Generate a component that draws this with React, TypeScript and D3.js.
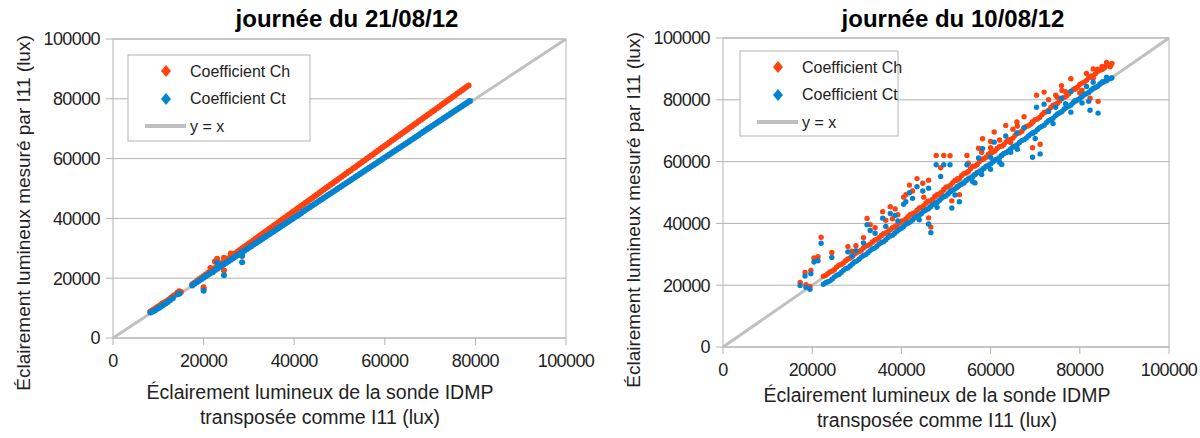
import React from 'react';
import * as d3 from 'd3';

type Pt = [number, number];

const W = 1200;
const H = 438;

const axisTicks = [0, 20000, 40000, 60000, 80000, 100000];
const seriesNames = ['Coefficient Ch', 'Coefficient Ct', 'y = x'];
const panelTitles = ['journée du 21/08/12', 'journée du 10/08/12'];
const yTitle = 'Éclairement lumineux mesuré par I11 (lux)';
const xTitleLines = ['Éclairement lumineux de la sonde IDMP', 'transposée comme I11 (lux)'];

// 21/08/12 - coefficient Ch (dense band read every 500 lux + low cluster + outliers)
const leftCh: Pt[] = [
  [8200, 8800], [8600, 9100], [9000, 9500], [9400, 9900], [9700, 10300], [10100, 10600],
  [10500, 11000], [10900, 11500], [11300, 11800], [11700, 12200], [12200, 12700], [12700, 13300],
  [13100, 13800], [13500, 14300], [14200, 15100], [14600, 15600], [15000, 15400],
  [17500, 18000], [18000, 18520], [18500, 19070], [19000, 19610], [19500, 20150], [20000, 20700],
  [20500, 21250], [21000, 21790], [21500, 22340], [22000, 22880], [22500, 23420], [23000, 23970],
  [23500, 24520], [24000, 25060], [24500, 25610], [25000, 26150], [25500, 26700], [26000, 27240],
  [26500, 27780], [27000, 28330], [27500, 28870], [28000, 29420], [28500, 29960], [29000, 30510],
  [29500, 31050], [30000, 31600], [30500, 32140], [31000, 32690], [31500, 33240], [32000, 33780],
  [32500, 34330], [33000, 34870], [33500, 35410], [34000, 35960], [34500, 36500], [35000, 37050],
  [35500, 37600], [36000, 38140], [36500, 38690], [37000, 39230], [37500, 39780], [38000, 40320],
  [38500, 40860], [39000, 41410], [39500, 41960], [40000, 42500], [40500, 43040], [41000, 43590],
  [41500, 44130], [42000, 44680], [42500, 45220], [43000, 45770], [43500, 46310], [44000, 46860],
  [44500, 47400], [45000, 47950], [45500, 48500], [46000, 49040], [46500, 49580], [47000, 50130],
  [47500, 50680], [48000, 51220], [48500, 51760], [49000, 52310], [49500, 52860], [50000, 53400],
  [50500, 53940], [51000, 54490], [51500, 55040], [52000, 55580], [52500, 56120], [53000, 56670],
  [53500, 57210], [54000, 57760], [54500, 58300], [55000, 58850], [55500, 59400], [56000, 59940],
  [56500, 60480], [57000, 61030], [57500, 61580], [58000, 62120], [58500, 62660], [59000, 63210],
  [59500, 63760], [60000, 64300], [60500, 64840], [61000, 65390], [61500, 65940], [62000, 66480],
  [62500, 67020], [63000, 67570], [63500, 68120], [64000, 68660], [64500, 69200], [65000, 69750],
  [65500, 70300], [66000, 70840], [66500, 71380], [67000, 71930], [67500, 72480], [68000, 73020],
  [68500, 73560], [69000, 74110], [69500, 74660], [70000, 75200], [70500, 75740], [71000, 76290],
  [71500, 76840], [72000, 77380], [72500, 77920], [73000, 78470], [73500, 79020], [74000, 79560],
  [74500, 80100], [75000, 80650], [75500, 81200], [76000, 81740], [76500, 82280], [77000, 82830],
  [77500, 83380], [78000, 83920], [78500, 84460],
  [20000, 17000], [20000, 16400], [23000, 26500], [22500, 25600], [24500, 22600], [24500, 26800],
  [28500, 27400], [26000, 28300], [21500, 23400],
];

// 21/08/12 - coefficient Ct
const leftCt: Pt[] = [
  [8300, 8500], [8800, 8900], [9300, 9300], [9800, 9800], [10200, 10100], [10600, 10500],
  [11100, 11000], [11600, 11500], [12100, 12000], [12600, 12600], [13200, 13300], [14300, 14600],
  [14700, 14900],
  [17500, 17600], [18000, 18110], [18500, 18610], [19000, 19110], [19500, 19620], [20000, 20120],
  [20500, 20620], [21000, 21130], [21500, 21630], [22000, 22130], [22500, 22640], [23000, 23140],
  [23500, 23640], [24000, 24150], [24500, 24650], [25000, 25150], [25500, 25660], [26000, 26160],
  [26500, 26660], [27000, 27170], [27500, 27670], [28000, 28170], [28500, 28680], [29000, 29180],
  [29500, 29680], [30000, 30190], [30500, 30690], [31000, 31190], [31500, 31700], [32000, 32200],
  [32500, 32700], [33000, 33210], [33500, 33710], [34000, 34210], [34500, 34720], [35000, 35220],
  [35500, 35720], [36000, 36230], [36500, 36730], [37000, 37230], [37500, 37740], [38000, 38240],
  [38500, 38740], [39000, 39250], [39500, 39750], [40000, 40250], [40500, 40760], [41000, 41260],
  [41500, 41760], [42000, 42270], [42500, 42770], [43000, 43270], [43500, 43780], [44000, 44280],
  [44500, 44780], [45000, 45290], [45500, 45790], [46000, 46290], [46500, 46800], [47000, 47300],
  [47500, 47800], [48000, 48310], [48500, 48810], [49000, 49310], [49500, 49820], [50000, 50320],
  [50500, 50820], [51000, 51320], [51500, 51830], [52000, 52330], [52500, 52830], [53000, 53340],
  [53500, 53840], [54000, 54340], [54500, 54850], [55000, 55350], [55500, 55850], [56000, 56360],
  [56500, 56860], [57000, 57360], [57500, 57870], [58000, 58370], [58500, 58870], [59000, 59380],
  [59500, 59880], [60000, 60380], [60500, 60890], [61000, 61390], [61500, 61890], [62000, 62400],
  [62500, 62900], [63000, 63400], [63500, 63910], [64000, 64410], [64500, 64910], [65000, 65420],
  [65500, 65920], [66000, 66420], [66500, 66930], [67000, 67430], [67500, 67930], [68000, 68440],
  [68500, 68940], [69000, 69440], [69500, 69950], [70000, 70450], [70500, 70950], [71000, 71450],
  [71500, 71960], [72000, 72460], [72500, 72960], [73000, 73470], [73500, 73970], [74000, 74470],
  [74500, 74980], [75000, 75480], [75500, 75980], [76000, 76490], [76500, 76990], [77000, 77490],
  [77500, 78000], [78000, 78500], [78500, 79000], [78800, 79300],
  [20000, 15800], [24500, 21000], [28500, 25300], [23000, 25200], [28500, 27600], [22000, 22000],
];

// 10/08/12 - coefficient Ch
const rightCh: Pt[] = [
  [22500, 22900], [23000, 23100], [23500, 23700], [24000, 24300], [24500, 24600], [25000, 25100],
  [25500, 25900], [26000, 26500], [26500, 26700], [27000, 27200], [27500, 27900], [28000, 28500],
  [28500, 28800], [29000, 29300], [29500, 30100], [30000, 30700], [30500, 30900], [31000, 31300],
  [31500, 32100], [32000, 32700], [32500, 32900], [33000, 33300], [33500, 34000], [34000, 34600],
  [34500, 34900], [35000, 35400], [35500, 36100], [36000, 36700], [36500, 36900], [37000, 37300],
  [37500, 38000], [38000, 38600], [38500, 38900], [39000, 39400], [39500, 40100], [40000, 40700],
  [40500, 40900], [41000, 41400], [41500, 42200], [42000, 42900], [42500, 43100], [43000, 43500],
  [43500, 44300], [44000, 45000], [44500, 45200], [45000, 45700], [45500, 46600], [46000, 47200],
  [46500, 47300], [47000, 47800], [47500, 48700], [48000, 49300], [48500, 49500], [49000, 50100],
  [49500, 51000], [50000, 51700], [50500, 51900], [51000, 52400], [51500, 53200], [52000, 53900],
  [52500, 54000], [53000, 54500], [53500, 55400], [54000, 56100], [54500, 56300], [55000, 56800],
  [55500, 57700], [56000, 58400], [56500, 58600], [57000, 59100], [57500, 60000], [58000, 60700],
  [58500, 60900], [59000, 61400], [59500, 62300], [60000, 62900], [60500, 63000], [61000, 63500],
  [61500, 64300], [62000, 64900], [62500, 65000], [63000, 65500], [63500, 66400], [64000, 67000],
  [64500, 67200], [65000, 67600], [65500, 68500], [66000, 69100], [66500, 69300], [67000, 69800],
  [67500, 70800], [68000, 71400], [68500, 71600], [69000, 72100], [69500, 72900], [70000, 73600],
  [70500, 73800], [71000, 74300], [71500, 75200], [72000, 75900], [72500, 76100], [73000, 76600],
  [73500, 77500], [74000, 78200], [74500, 78500], [75000, 78900], [75500, 79600], [76000, 80400],
  [76500, 80800], [77000, 81200], [77500, 81900], [78000, 82700], [78500, 83300], [79000, 83500],
  [79500, 84100], [80000, 85000], [80500, 85400], [81000, 85700], [81500, 86300], [82000, 87100],
  [82500, 87600], [83000, 87800], [83500, 88400], [84000, 89200], [84500, 89600], [85000, 89800],
  [85500, 90300], [86000, 91000], [86500, 91300], [87000, 91400], [87200, 91800],
  [86000, 92100], [85000, 90800], [84000, 89900], [86800, 90700],
  [38000, 41500], [45000, 48500], [55000, 59500], [58000, 63000], [60000, 66500], [62000, 67000],
  [65000, 70500], [66000, 71500], [75000, 80800], [76000, 83000], [80000, 82200], [83000, 87000],
  [17300, 20900], [18400, 24100], [19700, 24800], [20400, 28800], [21300, 29200], [22000, 35500],
  [24400, 30600], [18600, 20200], [19500, 19600], [28000, 32500], [28900, 31000], [29800, 32800],
  [31500, 35400], [32300, 41600], [33000, 39600], [34100, 38600], [35800, 43800], [36500, 41000],
  [37500, 45400], [38600, 44700], [39200, 42800], [40500, 48500], [41000, 49300], [41800, 52400],
  [42500, 50500], [43500, 54500], [44800, 53000], [46100, 54000], [47800, 62000], [48800, 58000],
  [49500, 62000], [50900, 61900], [46100, 41800], [46600, 38800], [51300, 47300], [53000, 49300],
  [54700, 62000], [52600, 54500], [56500, 55800], [57300, 64300], [58200, 67400], [60000, 64500],
  [60800, 69600], [62500, 62100], [63400, 71700], [64500, 66200], [65900, 72800], [67500, 74500],
  [69400, 72800], [69400, 64500], [70300, 81500], [71100, 65600], [72000, 82500], [73000, 80000],
  [74600, 81500], [75900, 84600], [76800, 82600], [78000, 86800], [78900, 83600], [80500, 83000],
  [82300, 80500], [84100, 79500], [81500, 88500], [83000, 90000],
];

// 10/08/12 - coefficient Ct
const rightCt: Pt[] = [
  [22500, 20300], [23000, 20800], [23500, 21100], [24000, 21400], [24500, 22000], [25000, 22700],
  [25500, 23200], [26000, 23500], [26500, 24100], [27000, 24800], [27500, 25300], [28000, 25600],
  [28500, 26200], [29000, 26900], [29500, 27500], [30000, 27800], [30500, 28400], [31000, 29100],
  [31500, 29600], [32000, 29900], [32500, 30500], [33000, 31200], [33500, 31700], [34000, 32000],
  [34500, 32600], [35000, 33300], [35500, 33800], [36000, 34100], [36500, 34700], [37000, 35400],
  [37500, 35900], [38000, 36200], [38500, 36800], [39000, 37500], [39500, 38000], [40000, 38400],
  [40500, 39000], [41000, 39700], [41500, 40100], [42000, 40500], [42500, 41100], [43000, 41800],
  [43500, 42200], [44000, 42600], [44500, 43200], [45000, 43900], [45500, 44300], [46000, 44700],
  [46500, 45300], [47000, 46000], [47500, 46400], [48000, 46800], [48500, 47400], [49000, 48100],
  [49500, 48600], [50000, 48900], [50500, 49600], [51000, 50300], [51500, 50700], [52000, 51100],
  [52500, 51700], [53000, 52300], [53500, 52700], [54000, 53100], [54500, 53800], [55000, 54400],
  [55500, 54700], [56000, 55100], [56500, 55800], [57000, 56400], [57500, 56700], [58000, 57100],
  [58500, 57800], [59000, 58400], [59500, 58700], [60000, 59200], [60500, 59900], [61000, 60500],
  [61500, 60800], [62000, 61300], [62500, 62000], [63000, 62600], [63500, 62900], [64000, 63400],
  [64500, 64100], [65000, 64700], [65500, 65000], [66000, 65500], [66500, 66200], [67000, 66800],
  [67500, 67100], [68000, 67600], [68500, 68300], [69000, 68900], [69500, 69200], [70000, 69700],
  [70500, 70400], [71000, 71000], [71500, 71400], [72000, 71800], [72500, 72600], [73000, 73200],
  [73500, 73600], [74000, 74000], [74500, 74800], [75000, 75400], [75500, 75800], [76000, 76200],
  [76500, 77000], [77000, 77600], [77500, 77900], [78000, 78300], [78500, 79100], [79000, 79700],
  [79500, 80000], [80000, 80400], [80500, 81100], [81000, 81700], [81500, 82000], [82000, 82400],
  [82500, 83100], [83000, 83700], [83500, 84000], [84000, 84400], [84500, 85100], [85000, 85600],
  [85500, 85900], [86000, 86200], [86500, 86700], [87000, 87000], [87200, 87100],
  [86000, 87300], [85000, 85800],
  [44000, 41200], [48000, 45200], [52000, 49200], [56000, 53500], [58000, 55800], [60000, 57500],
  [62000, 59800], [66000, 64000], [70000, 67500], [74000, 72300], [78000, 76000], [82000, 79500],
  [17300, 19900], [18400, 23000], [19700, 23700], [20400, 27500], [21300, 27900], [22000, 33600],
  [24400, 29000], [18600, 19300], [19500, 18700], [28000, 30800], [28900, 29500], [29800, 31200],
  [31500, 33700], [32300, 39600], [33000, 37700], [34100, 36800], [35800, 41700], [36500, 39000],
  [37500, 43200], [38600, 42600], [39200, 40800], [40500, 46200], [41000, 47000], [41800, 49900],
  [42500, 48100], [43500, 51900], [44800, 50500], [46100, 51400], [47800, 59000], [48800, 55200],
  [49500, 59000], [50900, 59000], [46100, 39800], [46600, 37000], [51300, 45000], [53000, 47000],
  [54700, 59000], [52600, 51900], [56500, 53100], [57300, 61200], [58200, 64200], [60000, 61400],
  [60800, 66300], [62500, 59100], [63400, 68300], [64500, 63000], [65900, 69300], [67500, 71000],
  [69400, 69300], [69400, 61400], [70300, 77600], [71100, 62500], [72000, 78600], [73000, 76200],
  [74600, 77600], [75900, 80500], [76800, 78700], [78000, 82700], [78900, 79600], [80500, 79000],
  [82300, 76600], [84100, 75700], [81500, 84300], [83000, 85700],
];

const colors = { ch: '#ff420e', ct: '#0084d1', ref: '#c0c0c0', grid: '#b3b3b3' };
const sans = '"Liberation Sans", Arial, sans-serif';

interface PanelProps {
  x0: number; x1: number; y0: number; y1: number;
  title: string; titleX: number;
  ch: Pt[]; ct: Pt[];
  lg: { x: number; y: number; w: number; h: number };
  yTitleX: number; yTitleY: number;
  xTitleX: number; xTitleY: number;
  r: number;
}

const diamond = 'M0,-6L5,0L0,6L-5,0Z';

const Panel: React.FC<PanelProps> = (p) => {
  const x = d3.scaleLinear().domain([0, 100000]).range([p.x0, p.x1]);
  const y = d3.scaleLinear().domain([0, 100000]).range([p.y1, p.y0]);
  const refLine = d3.line<number>().x(d => x(d)).y(d => y(d));

  return (
    <g>
      <text x={p.titleX} y={27} textAnchor="middle" fontFamily={sans} fontWeight="bold" fontSize={24}>
        {p.title}
      </text>
      {/* grid + ticks */}
      {axisTicks.map(t => (
        <g key={'y' + t}>
          <line x1={p.x0 - 7} x2={p.x1} y1={y(t)} y2={y(t)} stroke={colors.grid} />
          <text x={p.x0 - 13} y={y(t)} dy="0.36em" textAnchor="end" fontFamily={sans} fontSize={18}
            letterSpacing={-0.6} fill="#222">
            {t}
          </text>
        </g>
      ))}
      {axisTicks.map(t => (
        <g key={'x' + t}>
          <line x1={x(t)} x2={x(t)} y1={p.y1} y2={p.y1 + 7} stroke={colors.grid} />
          <text x={x(t)} y={p.y1 + 29} textAnchor="middle" fontFamily={sans} fontSize={18}
            letterSpacing={-0.6} fill="#222">
            {t}
          </text>
        </g>
      ))}
      <rect x={p.x0} y={p.y0} width={p.x1 - p.x0} height={p.y1 - p.y0} fill="none" stroke={colors.grid} />
      <path d={refLine([0, 100000]) || ''} stroke={colors.ref} strokeWidth={3} fill="none" />
      {p.ch.map((d, i) => (
        <circle key={'h' + i} cx={x(d[0])} cy={y(d[1])} r={p.r} fill={colors.ch} />
      ))}
      {p.ct.map((d, i) => (
        <circle key={'t' + i} cx={x(d[0])} cy={y(d[1])} r={p.r} fill={colors.ct} />
      ))}
      {/* legend */}
      <rect x={p.lg.x} y={p.lg.y} width={p.lg.w} height={p.lg.h} fill="#fff" stroke={colors.grid} />
      <path d={diamond} transform={`translate(${p.lg.x + 38},${p.lg.y + 16})`} fill={colors.ch} />
      <path d={diamond} transform={`translate(${p.lg.x + 38},${p.lg.y + 44})`} fill={colors.ct} />
      <line x1={p.lg.x + 17} x2={p.lg.x + 58} y1={p.lg.y + 71} y2={p.lg.y + 71} stroke={colors.ref} strokeWidth={4} />
      {seriesNames.map((s, i) => (
        <text key={s} x={p.lg.x + 62} y={p.lg.y + 16 + i * 27.5} dy="0.36em" fontFamily={sans} fontSize={16} fill="#222">
          {s}
        </text>
      ))}
      <text
        transform={`translate(${p.yTitleX},${p.yTitleY}) rotate(-90)`}
        textAnchor="middle" dy="0.36em" fontFamily={sans} fontSize={19} fill="#222"
      >
        {yTitle}
      </text>
      {xTitleLines.map((s, i) => (
        <text key={s} x={p.xTitleX} y={p.xTitleY + i * 25} textAnchor="middle" fontFamily={sans} fontSize={19.5} fill="#222">
          {s}
        </text>
      ))}
    </g>
  );
};

export default function App() {
  return (
    <svg width={W} height={H} style={{ position: 'absolute', left: 0, top: 0, background: '#fff' }}>
      <rect width={W} height={H} fill="#fff" />
      <Panel
        x0={113} x1={566} y0={39} y1={338}
        title={panelTitles[0]} titleX={347}
        ch={leftCh} ct={leftCt}
        lg={{ x: 128, y: 55, w: 182, h: 86 }}
        yTitleX={23} yTitleY={213}
        xTitleX={320} xTitleY={399}
        r={3}
      />
      <Panel
        x0={723} x1={1169} y0={38} y1={347}
        title={panelTitles[1]} titleX={953}
        ch={rightCh} ct={rightCt}
        lg={{ x: 740, y: 51, w: 158, h: 85 }}
        yTitleX={633} yTitleY={210}
        xTitleX={937} xTitleY={402}
        r={2.7}
      />
    </svg>
  );
}
